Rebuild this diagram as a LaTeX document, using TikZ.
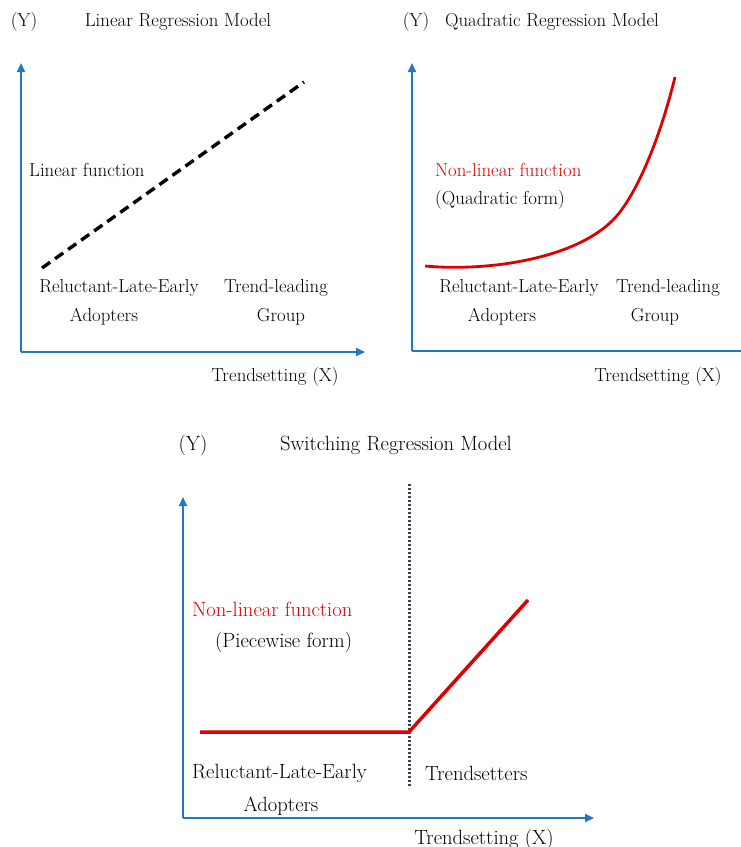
\documentclass[tikz,border=0pt]{standalone}
\usepackage{tikz}
\usetikzlibrary{positioning,arrows.meta}
\definecolor{axisblue}{RGB}{31,120,193}
\definecolor{fnred}{RGB}{222,0,0}
\definecolor{splitgray}{RGB}{50,62,92}

\begin{document}
\begin{tikzpicture}[
        x=1pt, y=-1pt,
        lbl/.style={inner sep=0pt, font=\fontsize{18.8}{22}\selectfont},
        biglbl/.style={inner sep=0pt, font=\fontsize{20.6}{24}\selectfont},
        redlbl/.style={lbl, text=fnred},
        axis/.style={-{Triangle[length=9pt, width=8pt]}, draw=axisblue, line width=2pt},
        fn/.style={draw=fnred, line width=3pt},
        split/.style={draw=splitgray, line width=3pt, dash pattern=on 2pt off 2pt}
    ]
    \useasboundingbox (0,0) rectangle (741,847);

    % linear panel
    \coordinate (o1) at (21,352);
    \coordinate (y1) at (21,63);
    \coordinate (x1) at (365,352);
    \draw[axis] (o1) -- (y1);
    \draw[axis] (o1) -- (x1);
    \coordinate (l1) at (42,268);
    \coordinate (l2) at (304,82);
    \draw[line width=3.4pt, dash pattern=on 10pt off 6pt] (l1) -- (l2);
    \node[lbl] (ylab1)  at (24,22)   {(Y)};
    \node[lbl] (title1) at (178,22)  {Linear Regression Model};
    \node[lbl, anchor=west] (lin) at (29,170) {Linear function};
    \node[lbl] (rle1) at (119,288) {Reluctant-Late-Early};
    \node[lbl] (ado1) at (104,317) {Adopters};
    \node[lbl] (tl1)  at (276,288) {Trend-leading};
    \node[lbl] (grp1) at (281,317) {Group};
    \node[lbl] (xlab1) at (275,377) {Trendsetting (X)};

    % quadratic panel
    \coordinate (o2) at (412,351);
    \coordinate (y2) at (412,63);
    \coordinate (x2) at (752,351);
    \draw[axis] (o2) -- (y2);
    \draw[axis] (o2) -- (x2);
    \coordinate (q1) at (425,266);
    \coordinate (q2) at (675,77);
    \draw[fn, line width=2.8pt] (q1) .. controls (490,272) and (585,258) .. (620,212)
        .. controls (642,183) and (662,130) .. (q2);
    \node[lbl] (ylab2)  at (416,22)  {(Y)};
    \node[lbl] (title2) at (552,22)  {Quadratic Regression Model};
    \node[redlbl, anchor=west] (nl2) at (435,170) {Non-linear function};
    \node[lbl, anchor=west] (quad) at (435,200) {(Quadratic form)};
    \node[lbl] (rle2) at (519,288) {Reluctant-Late-Early};
    \node[lbl] (ado2) at (502,317) {Adopters};
    \node[lbl] (tl2)  at (668,288) {Trend-leading};
    \node[lbl] (grp2) at (655,317) {Group};
    \node[lbl] (xlab2) at (658,377) {Trendsetting (X)};

    % switching panel
    \coordinate (o3) at (183,818);
    \coordinate (y3) at (183,497);
    \coordinate (x3) at (594,818);
    \draw[axis] (o3) -- (y3);
    \draw[axis] (o3) -- (x3);
    \coordinate (s1) at (409,484);
    \coordinate (s2) at (409,788);
    \draw[split] (s1) -- (s2);
    \coordinate (p1) at (200,732);
    \coordinate (p2) at (409,732);
    \coordinate (p3) at (528,600);
    \draw[fn, line width=3.5pt] (p1) -- (p2) -- (p3);
    \node[biglbl] (ylab3)  at (193,445) {(Y)};
    \node[biglbl] (title3) at (396,445) {Switching Regression Model};
    \node[biglbl, text=fnred, anchor=west] (nl3) at (192,609) {Non-linear function};
    \node[biglbl, anchor=west] (piece) at (215,642) {(Piecewise form)};
    \node[biglbl, anchor=west] (rle3) at (192,773) {Reluctant-Late-Early};
    \node[biglbl] (ado3) at (281,806) {Adopters};
    \node[biglbl, anchor=west] (tset) at (425,773) {Trendsetters};
    \node[biglbl] (xlab3) at (484,839) {Trendsetting (X)};
\end{tikzpicture}
\end{document}
